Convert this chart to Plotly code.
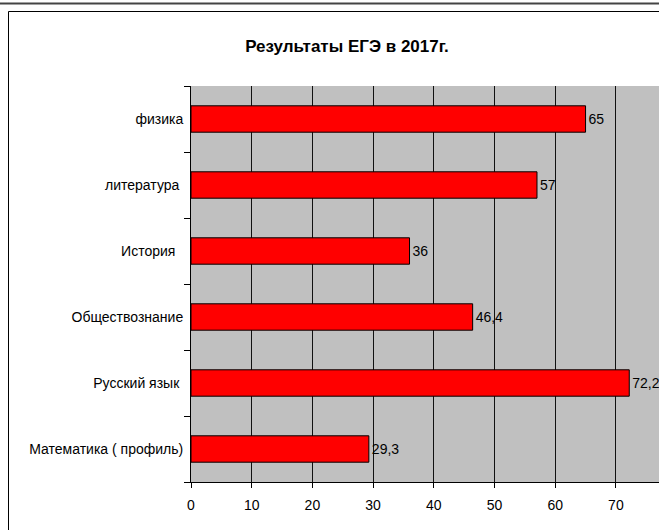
import plotly.graph_objects as go

categories = ["Математика ( профиль)", "Русский язык\u00a0", "Обществознание",
              "История\u00a0\u00a0", "литература\u00a0", "физика"]
values = [29.3, 72.2, 46.4, 36, 57, 65]
labels = [str(v).replace(".", ",") if v != int(v) else str(int(v)) for v in values]
x_ticks = [0, 10, 20, 30, 40, 50, 60, 70]

W, H = 659, 530
L, R, T, B = 191, 659, 86, 482  # plot area pixels
FONT = "Liberation Sans, Arial"

def px(x):
    return (x - L) / (R - L)

def py(y):
    return (B - y) / (B - T)

fig = go.Figure(go.Bar(
    y=categories, x=values, orientation="h",
    marker=dict(color="#FF0000", line=dict(color="black", width=1)),
    width=0.4,
    text=labels, textposition="outside", cliponaxis=False,
    textfont=dict(family=FONT, size=14, color="black"),
))

fig.update_layout(
    width=W, height=H,
    margin=dict(l=L, r=W - R, t=T, b=H - B),
    paper_bgcolor="white", plot_bgcolor="#C0C0C0",
    showlegend=False,
    font=dict(family=FONT, size=14, color="black"),
    title=dict(text="<b>Результаты ЕГЭ в 2017г.</b>", x=347 / W, xanchor="center",
               y=1 - 46 / H, yanchor="middle", yref="container",
               font=dict(size=17, family=FONT, color="black")),
    xaxis=dict(range=[0, (R - L) / 6.07], tickvals=x_ticks, showgrid=True, gridcolor="#111",
               gridwidth=1, zeroline=False, showline=True, linecolor="black", linewidth=1,
               ticks="outside", ticklen=5, tickcolor="black", tickfont=dict(size=14),
               ticklabelstandoff=5),
    yaxis=dict(categoryorder="array", categoryarray=categories, showgrid=False,
               showline=True, linecolor="black", linewidth=1, ticks="outside",
               tickson="boundaries", ticklen=6, tickcolor="black", tickfont=dict(size=14),
               ticklabelstandoff=4,
               range=[-0.5, len(categories) - 0.5]),
    bargap=0.6,
    shapes=[
        dict(type="rect", xref="paper", yref="paper", x0=px(8.5), y0=py(700), x1=px(900), y1=py(11.5),
             line=dict(color="black", width=1), layer="below"),
        dict(type="line", xref="paper", yref="paper", x0=px(-5), x1=px(700), y0=py(3.5), y1=py(3.5),
             line=dict(color="#444", width=2)),
    ],
)

fig.write_html("out.html", config={"displayModeBar": False},
               post_script="document.body.style.margin='0';document.body.style.overflow='hidden';")
